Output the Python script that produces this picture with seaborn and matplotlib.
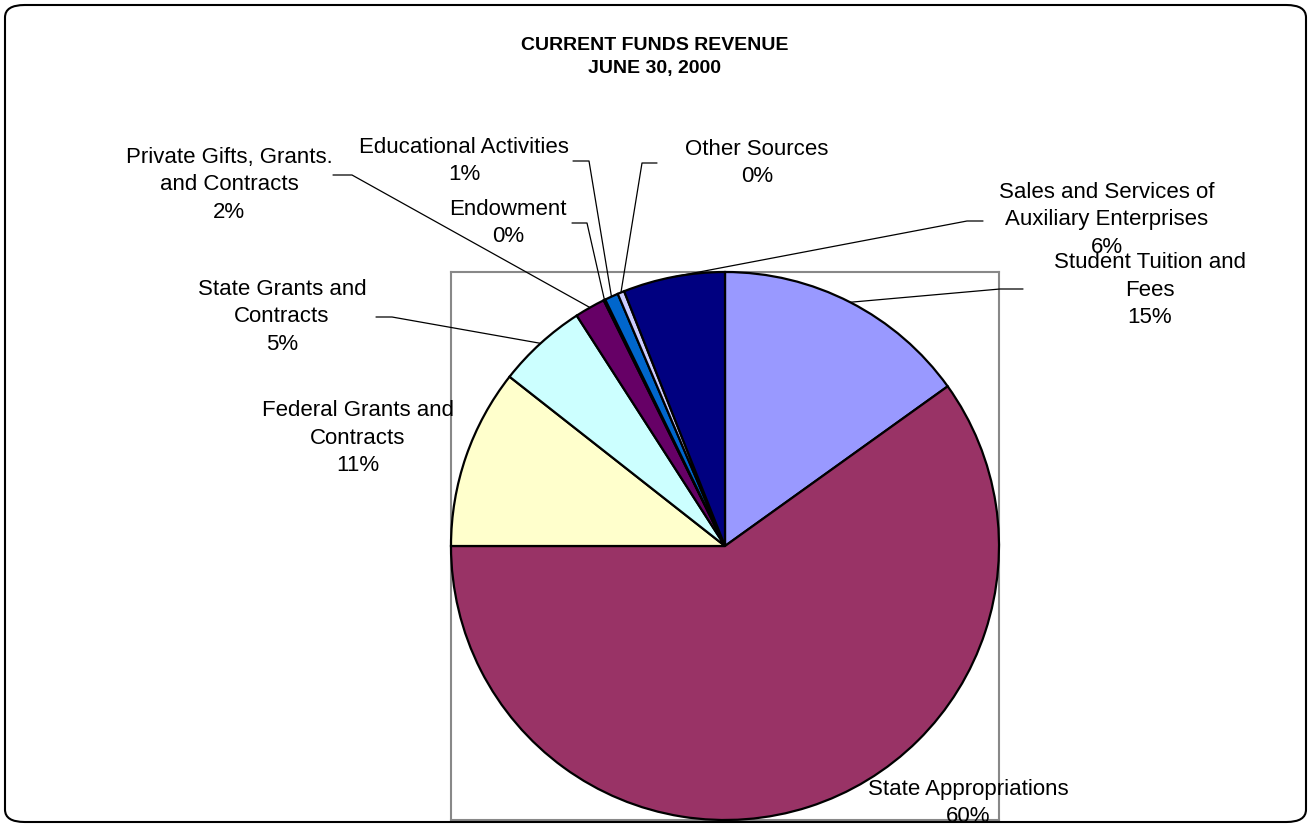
import matplotlib
matplotlib.use('Agg')
import matplotlib.pyplot as plt
from matplotlib.patches import FancyBboxPatch
import seaborn as sns
import numpy as np

# 데이터 (percent of current funds revenue)
categories = ['Student Tuition and\nFees', 'State Appropriations', 'Federal Grants and\nContracts',
              'State Grants and\nContracts', 'Private Gifts, Grants.\nand Contracts', 'Endowment',
              'Educational Activities', 'Other Sources', 'Sales and Services of\nAuxiliary Enterprises']
values = [15.1, 59.9, 10.6, 5.3, 1.8, 0.1, 0.8, 0.4, 6.0]
colors = ['#9999FF', '#993366', '#FFFFCC', '#CCFFFF', '#660066', '#FF8080', '#0066CC', '#CCCCFF', '#000080']

# label layout in pixels: text centre, leader start, leader elbow (None = no line)
label_pos = [(1150, 290), (968, 803), (358, 438), (282, 317), (229, 185),
             (508, 223), (464, 161), (757, 163), (1107, 220)]
leader = [((1023, 289), (1000, 289)), None, None, ((376, 317), (392, 317)), ((333, 175), (352, 175)),
          ((572, 223), (587, 223)), ((573, 161), (589, 161)), ((657, 163), (642, 163)),
          ((983, 221), (967, 221))]

sns.set_theme(style='white')
plt.rcParams['font.family'] = ['Liberation Sans', 'DejaVu Sans']
plt.rcParams['text.color'] = 'black'

W, H = 1311, 827
cx, cy, r = 725, 546, 274


def to_data(p):
    return ((p[0] - cx) / r, (cy - p[1]) / r)


fig = plt.figure(figsize=(W / 100, H / 100), dpi=100)
ax = fig.add_axes([(cx - r) / W, (H - cy - r) / H, 2 * r / W, 2 * r / H])

wedges, _ = ax.pie(values, colors=colors, startangle=90, counterclock=False, radius=1,
                   wedgeprops=dict(edgecolor='black', linewidth=1.6, zorder=2), frame=True)
ax.set_xlim(-1, 1)
ax.set_ylim(-1, 1)
ax.set_frame_on(True)
ax.set_xticks([])
ax.set_yticks([])
for s in ax.spines.values():
    s.set_visible(True)
    s.set_color('#888888')
    s.set_linewidth(1.5)
    s.set_zorder(0.5)

total = sum(values)
for i, w in enumerate(wedges):
    pct = values[i] / total * 100
    txt = '%s\n%d%%' % (categories[i], int(np.floor(pct + 0.5)))
    tx, ty = to_data(label_pos[i])
    ax.text(tx, ty, txt, ha='center', va='center', fontsize=16, linespacing=1.4,
            color='black', clip_on=False, zorder=5)
    if leader[i] is not None:
        mid = np.deg2rad((w.theta1 + w.theta2) / 2)
        ex, ey = np.cos(mid), np.sin(mid)
        s0 = to_data(leader[i][0])
        s1 = to_data(leader[i][1])
        ax.plot([s0[0], s1[0], ex], [s0[1], s1[1], ey], color='black', lw=0.9,
                clip_on=False, zorder=4)

fig.text(655 / W, 1 - 57 / H, 'CURRENT FUNDS REVENUE\nJUNE 30, 2000', ha='center', va='center',
         fontsize=14, fontweight='bold', linespacing=1.5, color='black')

border = FancyBboxPatch((5 / W, 5 / H), 1 - 10 / W, 1 - 10 / H,
                        boxstyle='round,pad=0,rounding_size=0.015', transform=fig.transFigure,
                        fill=False, edgecolor='black', linewidth=1.5)
fig.patches.append(border)

plt.savefig('out.png', dpi=100)
